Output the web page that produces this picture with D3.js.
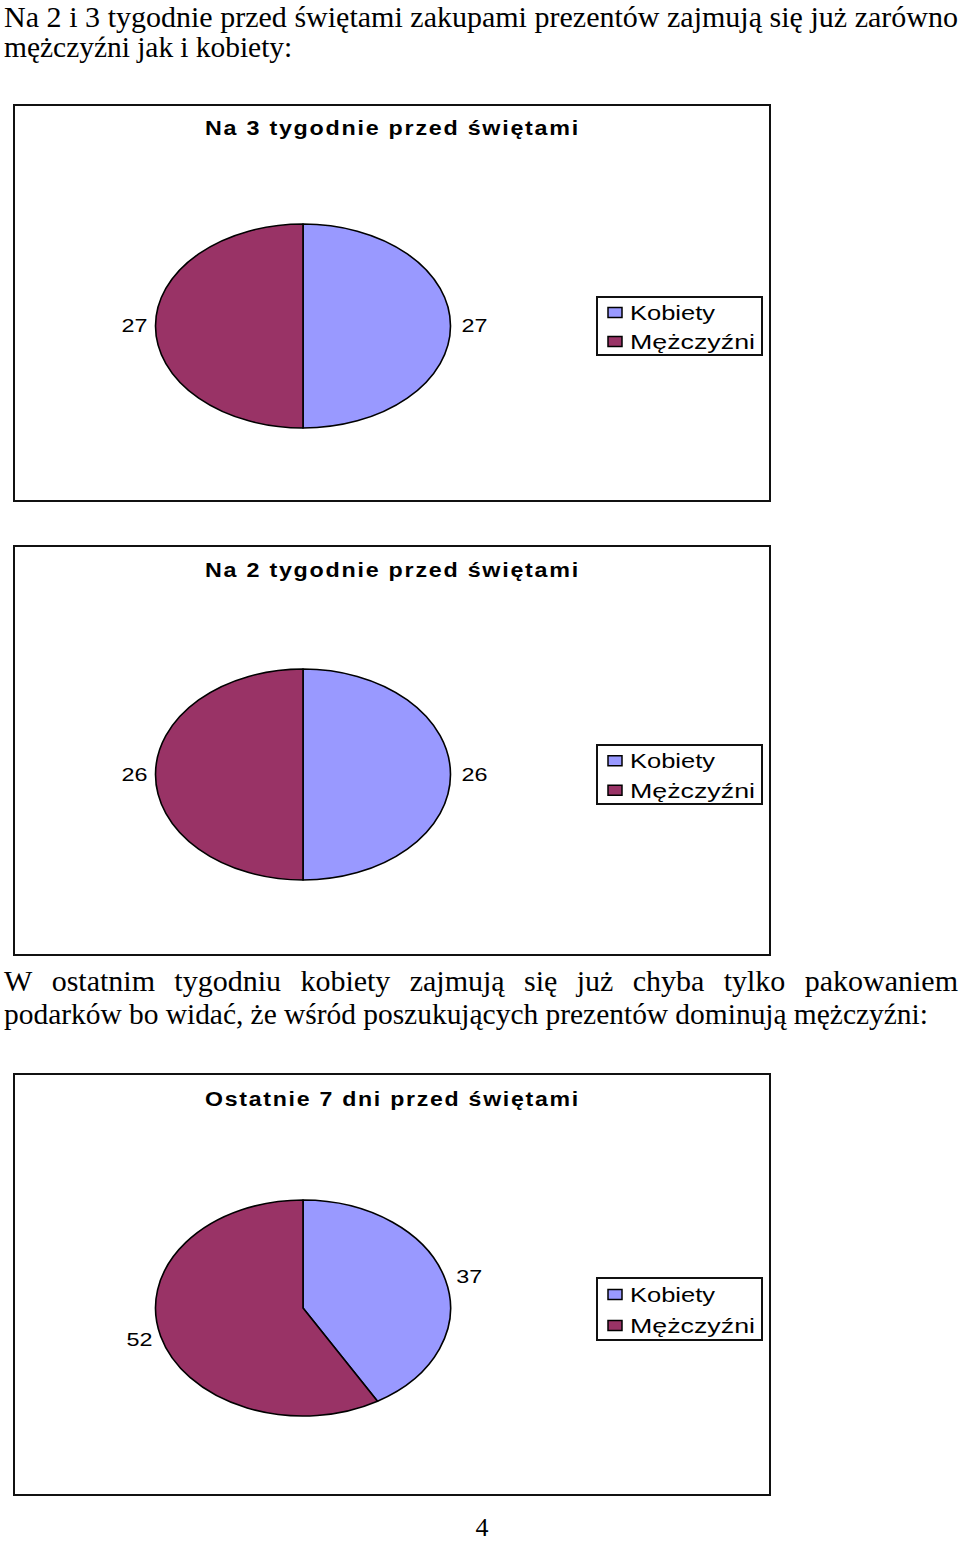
<!DOCTYPE html>
<html>
<head>
<meta charset="utf-8">
<script src="https://cdn.jsdelivr.net/npm/d3@7"></script>
<style>
  body { margin: 0; background: #fff; }
</style>
</head>
<body>
<script>
var categories = ['Kobiety', 'Mężczyźni'];
var chartTitles = ['Na 3 tygodnie przed świętami',
                   'Na 2 tygodnie przed świętami',
                   'Ostatnie 7 dni przed świętami'];
var values3Weeks = [27, 27];
var values2Weeks = [26, 26];
var valuesLast7  = [37, 52];

var introLines = ['Na 2 i 3 tygodnie przed świętami zakupami prezentów zajmują się już zarówno',
                  'mężczyźni jak i kobiety:'];
var outroLines = ['W ostatnim tygodniu kobiety zajmują się już chyba tylko pakowaniem',
                  'podarków bo widać, że wśród poszukujących prezentów dominują mężczyźni:'];
var pageNumber = '4';

var WIDTH  = 960;
var HEIGHT = 1543;
var CX = 303;
var RX = 147.5;
var SERIF = '"Liberation Serif", "Times New Roman", serif';
var SANS  = '"Liberation Sans", Arial, sans-serif';

var svg = d3.select('body')
            .append('svg')
            .attr('width', WIDTH)
            .attr('height', HEIGHT);

var color = d3.scaleOrdinal()
              .domain(categories)
              .range(['#9999ff', '#993366']);

// page text, all but the last line of a paragraph justified word by word
function paragraph(lines, y0, lineHeight) {
    lines.forEach(function(line, i) {
        var y = y0 + i * lineHeight;
        var justify = i < lines.length - 1;
        var words = line.split(' ');
        var nodes = words.map(function(w) {
            return svg.append('text')
                      .attr('y', y)
                      .attr('font-family', SERIF)
                      .attr('font-size', 30)
                      .attr('fill', '#000')
                      .text(w);
        });
        var squeeze = justify ? 1 : 0.982;
        var widths = nodes.map(function(n) { return n.node().getComputedTextLength() * squeeze; });
        var space = 7.2;
        if (justify) {
            space = (954 - d3.sum(widths)) / (words.length - 1);
        }
        var x = 4;
        nodes.forEach(function(n, j) {
            n.attr('x', x);
            if (!justify) {
                n.attr('textLength', widths[j]).attr('lengthAdjust', 'spacingAndGlyphs');
            }
            x += widths[j] + space;
        });
    });
}

paragraph(introLines, 27, 30);
paragraph(outroLines, 991, 33);

svg.append('text')
   .attr('x', 482)
   .attr('y', 1536)
   .attr('text-anchor', 'middle')
   .attr('font-family', SERIF)
   .attr('font-size', 26)
   .text(pageNumber);

var charts = [
    { title: chartTitles[0], values: values3Weeks, top: 105,  height: 396, titleY: 135,  cy: 326,  ry: 102, legendY: 297,  legendH: 58 },
    { title: chartTitles[1], values: values2Weeks, top: 546,  height: 409, titleY: 577,  cy: 774.5, ry: 105.5, legendY: 745,  legendH: 59 },
    { title: chartTitles[2], values: valuesLast7,  top: 1074, height: 421, titleY: 1106, cy: 1308, ry: 108, legendY: 1278, legendH: 62 }
];

var pie = d3.pie()
            .sort(null)
            .value(function(d) { return d.value; });

var arc = d3.arc()
            .innerRadius(0)
            .outerRadius(RX);

charts.forEach(function(c) {
    var g = svg.append('g');

    g.append('rect')
     .attr('x', 14)
     .attr('y', c.top)
     .attr('width', 756)
     .attr('height', c.height)
     .attr('fill', '#fff')
     .attr('stroke', '#111')
     .attr('stroke-width', 2);

    g.append('text')
     .attr('x', 205)
     .attr('y', c.titleY)
     .attr('font-family', SANS)
     .attr('font-weight', 'bold')
     .attr('font-size', 20)
     .attr('letter-spacing', 1.5)
     .attr('textLength', 375)
     .attr('lengthAdjust', 'spacingAndGlyphs')
     .text(c.title);

    var data = categories.map(function(k, i) { return { key: k, value: c.values[i] }; });
    var slices = pie(data);

    var pg = g.append('g')
              .attr('transform', 'translate(' + CX + ',' + c.cy + ') scale(1,' + (c.ry / RX) + ')');

    pg.selectAll('path')
      .data(slices)
      .enter()
      .append('path')
      .attr('d', arc)
      .attr('fill', function(d) { return color(d.data.key); })
      .attr('stroke', '#000')
      .attr('stroke-width', 1.6)
      .attr('stroke-linejoin', 'round')
      .attr('vector-effect', 'non-scaling-stroke');

    // data labels just outside the rim
    g.selectAll('text.lbl')
     .data(slices)
     .enter()
     .append('text')
     .attr('class', 'lbl')
     .each(function(d) {
         var a = (d.startAngle + d.endAngle) / 2;
         var s = Math.sin(a);
         var px = CX + RX * s;
         var right = s >= 0;
         d3.select(this)
           .attr('x', right ? px + 11 : px - 8)
           .attr('y', c.cy - (c.ry + 12) * Math.cos(a))
           .attr('text-anchor', right ? 'start' : 'end');
     })
     .attr('dy', '0.36em')
     .attr('font-family', SANS)
     .attr('font-size', 18)
     .attr('textLength', 26)
     .attr('lengthAdjust', 'spacingAndGlyphs')
     .text(function(d) { return d.data.value; });

    // legend
    var lg = g.append('g')
              .attr('transform', 'translate(597,' + c.legendY + ')');

    lg.append('rect')
      .attr('width', 165)
      .attr('height', c.legendH)
      .attr('fill', '#fff')
      .attr('stroke', '#111')
      .attr('stroke-width', 2);

    var step = c.legendH / 2;
    var items = lg.selectAll('g.item')
                  .data(categories)
                  .enter()
                  .append('g')
                  .attr('class', 'item')
                  .attr('transform', function(d, i) { return 'translate(0,' + (step / 2 + 1 + i * step) + ')'; });

    items.append('rect')
         .attr('x', 11)
         .attr('y', -5)
         .attr('width', 14)
         .attr('height', 10)
         .attr('fill', function(d) { return color(d); })
         .attr('stroke', '#000')
         .attr('stroke-width', 1.5);

    items.append('text')
         .attr('x', 33)
         .attr('y', 7.5)
         .attr('font-family', SANS)
         .attr('font-size', 21)
         .attr('textLength', function(d) { return d === 'Kobiety' ? 85 : 125; })
         .attr('lengthAdjust', 'spacingAndGlyphs')
         .text(function(d) { return d; });
});
</script>
</body>
</html>
